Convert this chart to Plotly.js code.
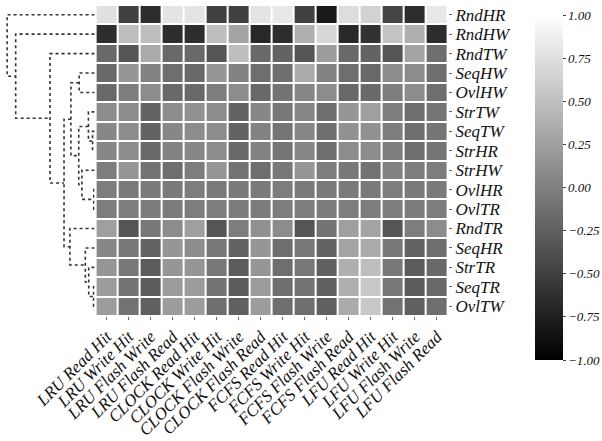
<!DOCTYPE html>
<html>
<head>
<meta charset="utf-8">
<script src="https://cdn.plot.ly/plotly-3.0.1.min.js"></script>
<style>html,body{margin:0;padding:0;background:#fff;}#chart{width:602px;height:441px;}</style>
</head>
<body>
<div id="chart"></div>
<script>
const colLabels = ["LRU Read Hit","LRU Write Hit","LRU Flash Write","LRU Flash Read",
  "CLOCK Read Hit","CLOCK Write Hit","CLOCK Flash Write","CLOCK Flash Read",
  "FCFS Read Hit","FCFS Write Hit","FCFS Flash Write","FCFS Flash Read",
  "LFU Read Hit","LFU Write Hit","LFU Flash Write","LFU Flash Read"];
const rowLabels = ["RndHR","RndHW","RndTW","SeqHW","OvlHW","StrTW","SeqTW","StrHR",
  "StrHW","OvlHR","OvlTR","RndTR","SeqHR","StrTR","SeqTR","OvlTW"];

const rRndHR = [0.76,-0.49,-0.65,0.79,0.79,-0.49,-0.49,0.79,0.82,-0.49,-0.80,0.73,0.65,-0.47,-0.65,0.82];
const rRndHW = [-0.65,0.49,0.49,-0.65,-0.65,0.49,0.29,-0.69,-0.65,0.37,0.69,-0.69,-0.61,0.53,0.37,-0.65];
const rRndTW = [-0.18,-0.33,0.33,-0.18,-0.18,-0.33,0.49,-0.18,-0.22,-0.33,0.22,-0.18,-0.22,-0.33,0.29,-0.14];
const rSeqHW = [-0.18,0.18,0.02,-0.14,-0.18,0.18,0.02,-0.14,-0.14,0.33,0.02,-0.14,-0.18,0.10,0.10,-0.14];
const rOvlHW = [-0.18,-0.02,0.10,-0.18,-0.18,-0.02,0.10,-0.18,-0.10,0.06,0.10,-0.18,-0.18,-0.02,0.10,-0.14];
const rStrTW = [0.10,0.10,-0.22,0.10,0.14,0.10,-0.22,0.06,-0.06,0.06,-0.14,0.18,0.25,-0.02,-0.14,-0.08];
const rSeqTW = [0.06,0.10,-0.22,0.06,0.10,0.10,-0.22,0.02,-0.08,0.06,-0.14,0.14,0.14,-0.02,-0.14,-0.08];
const rStrHR = [0.06,0.10,-0.18,0.02,0.06,0.10,-0.18,0.02,-0.08,0.06,-0.14,0.10,0.10,-0.02,-0.14,-0.08];
const rStrHW = [-0.02,0.18,-0.10,-0.14,-0.02,0.18,-0.10,-0.14,-0.06,0.18,-0.02,-0.06,-0.10,0.02,-0.02,-0.02];
const rOvlHR = [-0.02,-0.04,-0.04,-0.04,-0.02,-0.04,-0.04,-0.04,-0.02,-0.04,-0.04,-0.04,-0.04,-0.02,-0.04,-0.04];
const rOvlTR = [-0.02,-0.02,-0.03,-0.03,-0.02,-0.02,-0.03,-0.03,-0.02,-0.02,-0.03,-0.02,-0.02,-0.02,-0.03,-0.02];
const rRndTR = [0.25,-0.33,-0.06,0.10,0.25,-0.33,-0.02,0.14,0.10,-0.33,-0.10,0.25,0.29,-0.33,-0.02,0.10];
const rSeqHR = [0.06,-0.06,-0.22,0.18,0.10,-0.06,-0.22,0.18,-0.14,-0.06,-0.22,0.29,0.33,-0.06,-0.22,-0.14];
const rStrTR = [0.18,-0.06,-0.29,0.18,0.18,-0.06,-0.29,0.18,-0.14,-0.06,-0.25,0.37,0.49,-0.06,-0.29,-0.18];
const rSeqTR = [0.22,-0.10,-0.29,0.22,0.22,-0.10,-0.29,0.22,-0.14,-0.10,-0.25,0.37,0.57,-0.06,-0.29,-0.18];
const rOvlTW = [0.22,-0.10,-0.25,0.22,0.22,-0.14,-0.25,0.22,-0.14,-0.14,-0.25,0.33,0.57,-0.10,-0.25,-0.14];

// linkage: children (index < 16 = leaf row, >= 16 = earlier merge) and merge distance
const linkLeft   = [9, 14, 6, 13, 5, 12, 8, 3, 20, 23, 11, 25, 2, 1, 0];
const linkRight  = [10, 15, 7, 17, 18, 19, 16, 4, 22, 24, 21, 26, 27, 28, 29];
const linkHeight = [0.8, 1.0, 2.0, 5.7, 6.0, 9.0, 12.3, 15.0, 15.4, 23.0, 24.0, 29.7, 43.3, 76.7, 85.0];

const cbTickVals = [-1,-0.75,-0.5,-0.25,0,0.25,0.5,0.75,1];
const cbTickText = ["\u22121.00","\u22120.75","\u22120.50","\u22120.25","0.00","0.25","0.50","0.75","1.00"];

const z = [rRndHR,rRndHW,rRndTW,rSeqHW,rOvlHW,rStrTW,rSeqTW,rStrHR,rStrHW,rOvlHR,rOvlTR,rRndTR,rSeqHR,rStrTR,rSeqTR,rOvlTW];
const xIdx = colLabels.map((_, i) => i);
const yIdx = rowLabels.map((_, i) => i);

const serif = {family: '"Liberation Serif", "Times New Roman", Times, serif', style: "italic", color: "#111"};

const W = 448, H = 311;
const traces = [{
  type: "heatmap", z: z, x: xIdx, y: yIdx, xaxis: "x", yaxis: "y",
  zmin: -1, zmax: 1, xgap: 2, ygap: 2,
  colorscale: [[0, "rgb(0,0,0)"], [1, "rgb(255,255,255)"]],
  colorbar: {
    x: (537 - 2) / W, xanchor: "left", xref: "paper", xpad: 0,
    y: (316 - 15) / H, yanchor: "top", ypad: 0,
    lenmode: "pixels", len: 345, thickness: 28,
    outlinewidth: 0,
    tickmode: "array", tickvals: cbTickVals, ticktext: cbTickText,
    ticks: "outside", ticklen: 3, tickcolor: "#444",
    tickfont: Object.assign({size: 13}, serif)
  },
  hoverinfo: "skip"
}];

// dendrogram from linkage
const nodeY = yIdx.slice();
const nodeH = yIdx.map(() => 0);
for (let k = 0; k < linkLeft.length; k++) {
  const a = linkLeft[k], b = linkRight[k], h = linkHeight[k];
  const ya = nodeY[a], yb = nodeY[b];
  traces.push({
    type: "scatter", mode: "lines", xaxis: "x2", yaxis: "y",
    x: [nodeH[a], h, h, nodeH[b]], y: [ya, ya, yb, yb],
    line: {color: "#333", width: 1.6, dash: "dot"},
    hoverinfo: "skip", showlegend: false
  });
  nodeY.push((ya + yb) / 2);
  nodeH.push(h);
}

const layout = {
  width: 602, height: 441,
  margin: {l: 2, r: 152, t: 5, b: 125},
  paper_bgcolor: "#fff", plot_bgcolor: "#fff",
  showlegend: false,
  xaxis: {
    domain: [(96 - 2) / W, 1], range: [-0.5, 15.5],
    tickmode: "array", tickvals: xIdx, ticktext: colLabels, tickangle: -45,
    ticks: "outside", ticklen: 3, tickcolor: "#666",
    tickfont: Object.assign({size: 17}, serif),
    showgrid: false, zeroline: false, showline: false
  },
  xaxis2: {
    domain: [0, (95 - 2) / W], range: [90, 0], anchor: "y",
    visible: false, showgrid: false, zeroline: false
  },
  yaxis: {
    range: [15.5, -0.5], side: "right", anchor: "x",
    tickmode: "array", tickvals: yIdx, ticktext: rowLabels,
    ticks: "outside", ticklen: 3, tickcolor: "#666",
    tickfont: Object.assign({size: 17}, serif),
    showgrid: false, zeroline: false, showline: false
  }
};

Plotly.newPlot("chart", traces, layout, {staticPlot: true, displayModeBar: false});
</script>
</body>
</html>
